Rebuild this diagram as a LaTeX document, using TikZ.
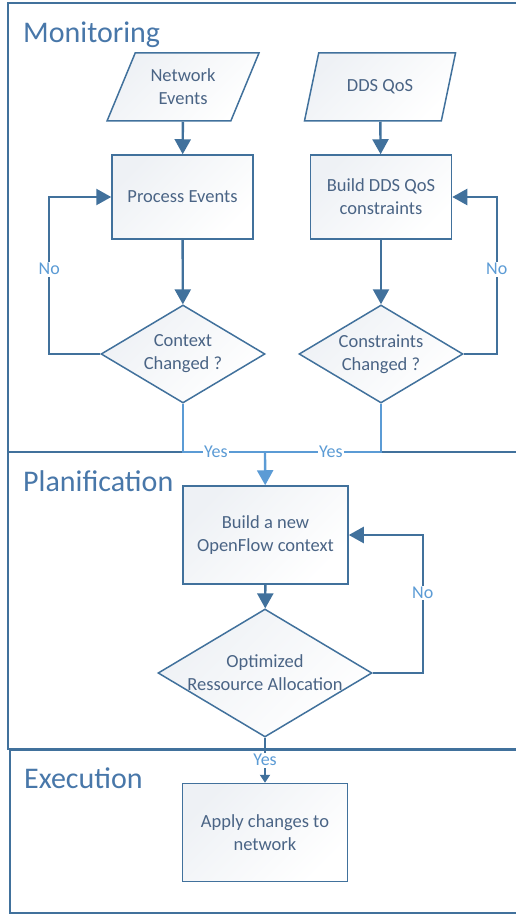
\documentclass[tikz,border=0pt]{standalone}
\usepackage{fontspec}
\setmainfont{Carlito}
\usetikzlibrary{shapes.geometric,arrows.meta}
\definecolor{linedark}{HTML}{41719C}
\definecolor{lineyes}{HTML}{5B9BD5}
\definecolor{txtnode}{HTML}{4A6485}
\definecolor{txttitle}{HTML}{4877A9}
\definecolor{shadetop}{HTML}{EEF1F5}
\tikzset{
  frame/.style={draw=linedark,line width=1.5pt},
  title/.style={anchor=base west,inner sep=0pt,text=txttitle,font=\fontsize{30}{36}\selectfont},
  shaded/.style={draw=linedark,line width=1.5pt,top color=shadetop,bottom color=white,shading angle=45,
    text=txtnode,font=\fontsize{18.5}{23}\selectfont,align=center},
  box/.style={shaded,rectangle,inner sep=0pt,minimum width=141pt,minimum height=84pt},
  bigbox/.style={box,minimum width=165pt,minimum height=98pt},
  data/.style={shaded,trapezium,trapezium left angle=62,trapezium right angle=118,
    trapezium stretches=true,inner sep=0pt,minimum width=152pt,minimum height=68pt},
  decision/.style={shaded,diamond,aspect=1.67,inner sep=-4pt,minimum width=164pt,minimum height=98pt},
  flow/.style={draw=linedark,line width=2.4pt,-{Triangle[length=15pt,width=16pt]}},
  yesflow/.style={draw=lineyes,line width=2.4pt},
  answer/.style={fill=white,inner sep=1.5pt,text=lineyes,font=\fontsize{18}{22}\selectfont},
}
\begin{document}
\begin{tikzpicture}[x=1pt,y=-1pt]
  \useasboundingbox (0,0) rectangle (516,915);
  % frames
  \draw[frame] (8,3) rectangle (540,452);
  \draw[frame] (8,452) rectangle (540,749);
  \draw[frame] (10,750) rectangle (540,913);
  \node[title] (tmon) at (23,43) {Monitoring};
  \node[title] (tplan) at (23,491) {Planification};
  \node[title] (texec) at (24,788) {Execution};
  % monitoring
  \node[data] (net) at (183,87) {Network\\Events};
  \node[data] (dds) at (380,87) {DDS QoS};
  \node[box] (proc) at (182.5,197) {Process Events};
  \node[box] (bdds) at (381,197) {Build DDS QoS\\constraints};
  \node[decision] (ctx) at (183,354) {Context\\Changed ?};
  \node[decision] (cst) at (381,354) {Constraints\\Changed ?};
  \draw[flow] (net) -- (proc);
  \draw[flow] (dds) -- (bdds);
  \draw[flow] (proc) -- (ctx);
  \draw[flow] (bdds) -- (cst);
  \draw[flow] (ctx.west) -- ++(-51,0) |- node[pos=0.27,answer] {No} (proc.west);
  \draw[flow] (cst.east) -- ++(33,0) |- node[pos=0.27,answer] {No} (bdds.east);
  % planification
  \coordinate (merge) at (265,452);
  \node[bigbox] (ofc) at (265.5,535) {Build a new\\OpenFlow context};
  \node[decision,minimum width=214pt,minimum height=128pt] (opt) at (265,673) {Optimized\\Ressource Allocation};
  \draw[yesflow] (ctx.south) |- node[pos=0.7,answer] {Yes} (merge);
  \draw[yesflow] (cst.south) |- node[pos=0.716,answer] {Yes} (merge);
  \draw[yesflow,-{Triangle[length=15pt,width=16pt]}] (merge) -- (ofc);
  \draw[flow] (ofc) -- (opt);
  \draw[flow] (opt.east) -- ++(50,0) |- node[pos=0.29,answer] {No} (ofc.east);
  % execution
  \node[bigbox] (apply) at (265,832.5) {Apply changes to\\network};
  \draw[flow,-{Triangle[length=8pt,width=10pt]}] (opt) -- node[pos=0.5,answer] {Yes} (apply);
\end{tikzpicture}
\end{document}
